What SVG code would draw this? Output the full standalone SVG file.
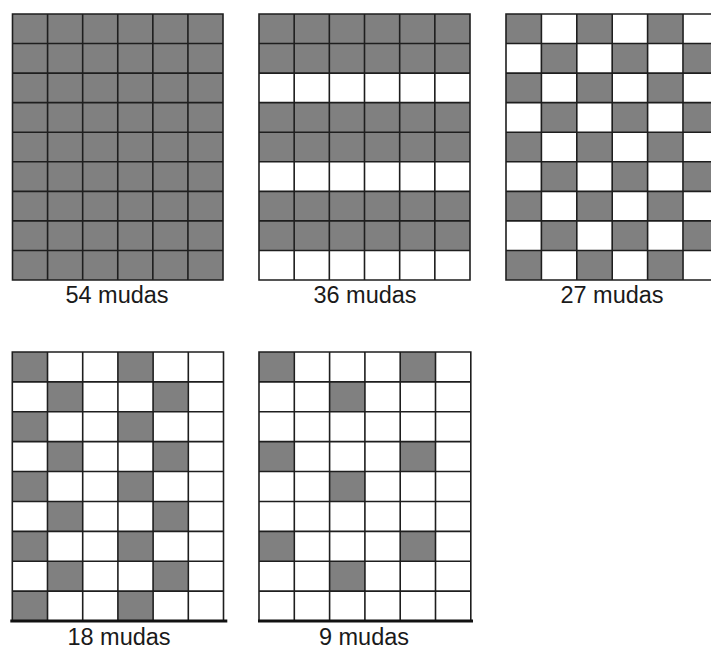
<svg xmlns="http://www.w3.org/2000/svg" width="711" height="649" viewBox="0 0 711 649">
<style>
.bg{fill:#ffffff}
.gr{fill:#808080}
.ln{fill:none;stroke:#1e1e1e;stroke-width:1.6}
.base{stroke:#111111;stroke-width:3}
.lbl{font-family:"Liberation Sans",Arial,sans-serif;font-size:23.5px;fill:#1a1a1a;text-anchor:middle}
</style>
<defs>
<pattern id="chk" patternUnits="userSpaceOnUse" x="0" y="0" width="70.8" height="59.12">
<rect x="0" y="0" width="35.4" height="29.56" fill="#808080"/>
<rect x="35.4" y="29.56" width="35.4" height="29.56" fill="#808080"/>
</pattern>
<pattern id="p18" patternUnits="userSpaceOnUse" x="0" y="0" width="105.6" height="59.78">
<rect x="0" y="0" width="35.2" height="29.89" fill="#808080"/>
<rect x="35.2" y="29.89" width="35.2" height="29.89" fill="#808080"/>
</pattern>
<pattern id="p9" patternUnits="userSpaceOnUse" x="0" y="0" width="141.2" height="89.67">
<rect x="0" y="0" width="35.3" height="29.89" fill="#808080"/>
<rect x="70.6" y="29.89" width="35.3" height="29.89" fill="#808080"/>
</pattern>
</defs>
<rect x="0" y="0" width="711" height="649" fill="#ffffff"/>

<g id="grid54" transform="translate(12.5,14)">
<rect class="gr" x="0" y="0" width="210.5" height="266"/>
<path class="ln" d="M0 0H210.5V266H0Z M35.08 0V266 M70.17 0V266 M105.25 0V266 M140.33 0V266 M175.42 0V266 M0 29.56H210.5 M0 59.11H210.5 M0 88.67H210.5 M0 118.22H210.5 M0 147.78H210.5 M0 177.33H210.5 M0 206.89H210.5 M0 236.44H210.5"/>
</g>

<g id="grid36" transform="translate(259,14)">
<rect class="bg" x="0" y="0" width="211" height="266"/>
<rect class="gr" x="0" y="0" width="211" height="59.11"/>
<rect class="gr" x="0" y="88.67" width="211" height="59.11"/>
<rect class="gr" x="0" y="177.33" width="211" height="59.11"/>
<path class="ln" d="M0 0H211V266H0Z M35.17 0V266 M70.33 0V266 M105.5 0V266 M140.67 0V266 M175.83 0V266 M0 29.56H211 M0 59.11H211 M0 88.67H211 M0 118.22H211 M0 147.78H211 M0 177.33H211 M0 206.89H211 M0 236.44H211"/>
</g>

<g id="grid27" transform="translate(506,14)">
<rect class="bg" x="0" y="0" width="212.4" height="266"/>
<rect x="0" y="0" width="212.4" height="266" fill="url(#chk)"/>
<path class="ln" d="M0 0H212.4V266H0Z M35.4 0V266 M70.8 0V266 M106.2 0V266 M141.6 0V266 M177 0V266 M0 29.56H212.4 M0 59.11H212.4 M0 88.67H212.4 M0 118.22H212.4 M0 147.78H212.4 M0 177.33H212.4 M0 206.89H212.4 M0 236.44H212.4"/>
</g>

<g id="grid18" transform="translate(12.3,352)">
<rect class="bg" x="0" y="0" width="211.2" height="269"/>
<rect x="0" y="0" width="211.2" height="269" fill="url(#p18)"/>
<path class="ln" d="M0 0H211.2V269H0Z M35.2 0V269 M70.4 0V269 M105.6 0V269 M140.8 0V269 M176 0V269 M0 29.89H211.2 M0 59.78H211.2 M0 89.67H211.2 M0 119.56H211.2 M0 149.44H211.2 M0 179.33H211.2 M0 209.22H211.2 M0 239.11H211.2"/>
<line class="base" x1="-2" y1="269" x2="215" y2="269"/>
</g>

<g id="grid9" transform="translate(259,352)">
<rect class="bg" x="0" y="0" width="211.8" height="269"/>
<rect x="0" y="0" width="211.8" height="269" fill="url(#p9)"/>
<path class="ln" d="M0 0H211.8V269H0Z M35.3 0V269 M70.6 0V269 M105.9 0V269 M141.2 0V269 M176.5 0V269 M0 29.89H211.8 M0 59.78H211.8 M0 89.67H211.8 M0 119.56H211.8 M0 149.44H211.8 M0 179.33H211.8 M0 209.22H211.8 M0 239.11H211.8"/>
<line class="base" x1="-1" y1="269" x2="214" y2="269"/>
</g>

<g id="labels">
<text class="lbl" x="117" y="303">54 mudas</text>
<text class="lbl" x="365" y="303">36 mudas</text>
<text class="lbl" x="612" y="303">27 mudas</text>
<text class="lbl" x="119" y="645">18 mudas</text>
<text class="lbl" x="364" y="645">9 mudas</text>
</g>
</svg>
